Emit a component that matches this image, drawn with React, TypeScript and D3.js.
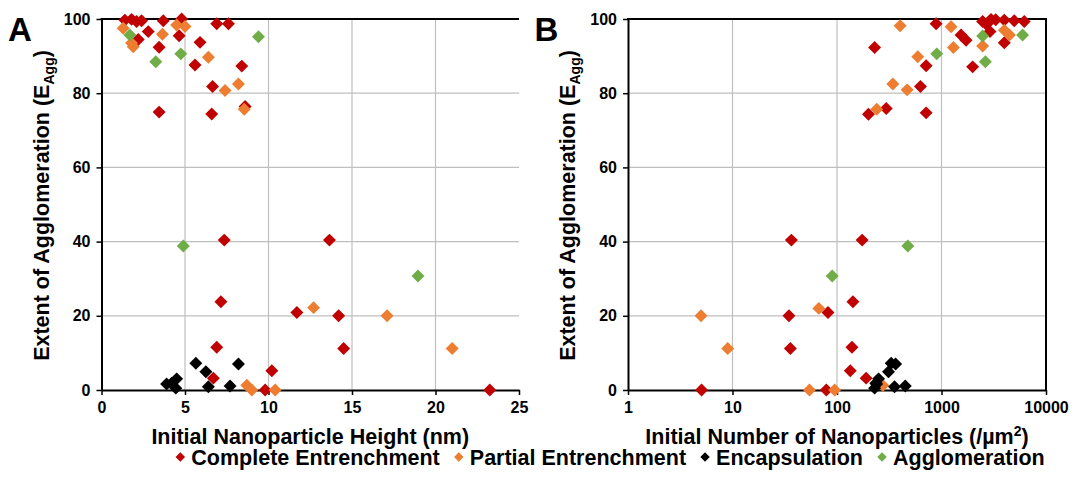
import React, { useRef, useEffect } from 'react';
import * as d3 from 'd3';

// series names, in draw order
const categories = ['Complete Entrenchment', 'Partial Entrenchment', 'Encapsulation', 'Agglomeration'];
const seriesColors = ['#C00000', '#ED7D31', '#000000', '#70AD47'];

// panel A: [initial height (nm), E_Agg]
const completeHeight = [
  [1.4, 99.7], [1.8, 99.9], [2.1, 99.3], [2.4, 99.5], [2.8, 96.6], [2.2, 94.5], [3.7, 99.5],
  [3.45, 92.4], [4.8, 100], [4.65, 95.5], [5.9, 93.7], [5.6, 87.6], [6.9, 98.7], [7.6, 98.7],
  [8.4, 87.3], [6.65, 81.8], [3.45, 74.9], [6.6, 74.4], [8.6, 76.4], [7.35, 40.4], [7.15, 23.8],
  [6.9, 11.5], [6.7, 3.2], [10.2, 5.2], [9.8, 0], [13.65, 40.4], [11.7, 20.9], [14.2, 20],
  [14.5, 11.2], [23.25, 0],
];
const partialHeight = [
  [1.3, 97.5], [1.8, 93.5], [1.9, 92.5], [3.65, 95.9], [4.5, 98.4], [5.0, 98], [6.4, 89.7],
  [7.4, 80.7], [8.2, 82.5], [8.55, 75.7], [8.7, 1.3], [9.0, 0], [10.4, 0], [12.7, 22.2],
  [17.1, 20], [21, 11.2],
];
const encapHeight = [
  [3.9, 1.6], [4.2, 1.8], [4.45, 0.5], [4.5, 3], [5.65, 7.2], [6.25, 4.9], [6.4, 0.9], [7.7, 1.1], [8.2, 7],
];
const agglomHeight = [[1.7, 95.7], [3.25, 88.5], [4.75, 90.6], [9.4, 95.2], [4.9, 38.8], [18.95, 30.7]];

// panel B: [initial number of nanoparticles (/um2), E_Agg]
const completeNumber = [
  [888, 98.7], [1538, 95.7], [1718, 94.3], [229, 92.3], [713, 87.4], [1986, 87.1], [629, 81.8],
  [296, 75.9], [200, 74.3], [713, 74.7], [2475, 99.3], [2977, 99.9], [2912, 96.6], [3990, 99.7],
  [4970, 99.5], [6190, 99.3], [3990, 93.6], [2700, 98.5], [3300, 99.8], [36.6, 40.4], [174, 40.4],
  [142, 23.8], [34.7, 20], [82, 20.9], [35.8, 11.2], [139, 11.5], [134, 5.2], [190, 3.2], [79, 0],
  [5.06, 0],
];
const partialNumber = [
  [402, 98.2], [1236, 97.9], [593, 89.8], [1300, 92.3], [342, 82.5], [469, 80.9], [240, 75.7],
  [2477, 92.7], [3990, 97], [4470, 95.7], [5, 20], [9, 11.2], [67, 22], [54.5, 0], [95, 0], [275, 1.2],
];
const encapNumber = [
  [229, 0.5], [235, 1.8], [250, 3.0], [240, 1.6], [330, 7.2], [311, 4.9], [355, 0.9], [450, 1.1], [364, 7],
];
const agglomNumber = [[901, 90.6], [2477, 95.4], [2630, 88.5], [5970, 95.7], [90, 30.7], [476, 38.8]];

const yTicks = [0, 20, 40, 60, 80, 100];
const heightTicks = [0, 5, 10, 15, 20, 25];
const numberTicks = [1, 10, 100, 1000, 10000];

const W = 1072,
  H = 496;
const FONT = "'Liberation Sans', Arial, sans-serif";
const TITLE_SIZE = '21.5px';

const Chart = () => {
  const svgRef = useRef<SVGSVGElement>(null);

  useEffect(() => {
    const svg = d3.select(svgRef.current);
    svg.selectAll('*').remove();

    const y = d3.scaleLinear().domain([0, 100]).range([390, 19]);

    const panels = [
      {
        letter: 'A',
        x: d3.scaleLinear().domain([0, 25]).range([101.5, 519]),
        ticks: heightTicks,
        series: [completeHeight, partialHeight, encapHeight, agglomHeight],
        rightBorder: false,
      },
      {
        letter: 'B',
        x: d3.scaleLog().domain([1, 10000]).range([628, 1046]),
        ticks: numberTicks,
        series: [completeNumber, partialNumber, encapNumber, agglomNumber],
        rightBorder: true,
      },
    ];

    const diamond = d3.symbol().type(d3.symbolSquare).size(84);

    panels.forEach((p, pi) => {
      const g = svg.append('g');
      const [x0, x1] = p.x.range();

      // GRID
      g.selectAll('.hgrid')
        .data(yTicks.filter((t) => t > 0 && t < 100))
        .enter()
        .append('line')
        .attr('x1', x0)
        .attr('x2', x1)
        .attr('y1', (d) => y(d))
        .attr('y2', (d) => y(d))
        .attr('stroke', '#BFBFBF')
        .attr('stroke-width', 1.2);
      g.selectAll('.vgrid')
        .data(p.ticks.slice(1, -1))
        .enter()
        .append('line')
        .attr('x1', (d) => p.x(d))
        .attr('x2', (d) => p.x(d))
        .attr('y1', y(100))
        .attr('y2', y(0))
        .attr('stroke', '#BFBFBF')
        .attr('stroke-width', 1.2);

      // BORDERS
      g.append('line')
        .attr('x1', x0 - 1)
        .attr('x2', x1 + (p.rightBorder ? 1 : 0))
        .attr('y1', y(100))
        .attr('y2', y(100))
        .attr('stroke', '#000')
        .attr('stroke-width', 2);
      if (p.rightBorder) {
        g.append('line')
          .attr('x1', x1)
          .attr('x2', x1)
          .attr('y1', y(100))
          .attr('y2', y(0))
          .attr('stroke', '#000')
          .attr('stroke-width', 2);
      }

      // AXES
      const xAxis = d3
        .axisBottom(p.x)
        .tickValues(p.ticks)
        .tickFormat(d3.format('d') as any)
        .tickSize(5)
        .tickSizeOuter(0)
        .tickPadding(7);
      const yAxis = d3.axisLeft(y).tickValues(yTicks).tickSize(5).tickSizeOuter(0).tickPadding(6);
      const xg = g.append('g').attr('transform', `translate(0,${y(0)})`).call(xAxis);
      const yg = g.append('g').attr('transform', `translate(${x0},0)`).call(yAxis);
      [xg, yg].forEach((a) => {
        a.select('.domain').attr('stroke', '#000').attr('stroke-width', 2);
        a.selectAll('.tick line').attr('stroke', '#000').attr('stroke-width', 1.5);
        a.selectAll('.tick text')
          .attr('fill', '#000')
          .style('font-family', FONT)
          .style('font-weight', 'bold')
          .style('font-size', '16px');
      });

      // POINTS
      p.series.forEach((data, si) => {
        g.selectAll(`.s${si}`)
          .data(data)
          .enter()
          .append('path')
          .attr('d', diamond as any)
          .attr('transform', (d) => `translate(${p.x(d[0])},${y(d[1])}) rotate(45)`)
          .attr('fill', seriesColors[si]);
      });

      // TITLES
      const cx = (x0 + x1) / 2;
      const xt = g
        .append('text')
        .attr('x', cx)
        .attr('y', 444)
        .attr('text-anchor', 'middle')
        .style('font-family', FONT)
        .style('font-weight', 'bold')
        .style('font-size', TITLE_SIZE);
      if (pi === 0) {
        xt.text('Initial Nanoparticle Height (nm)');
      } else {
        xt.append('tspan').text('Initial Number of Nanoparticles (/µm');
        xt.append('tspan').attr('dy', -8).style('font-size', '14px').text('2');
        xt.append('tspan').attr('dy', 8).text(')');
      }

      const yt = g
        .append('text')
        .attr('transform', `translate(${x0 - 53},${(y(0) + y(100)) / 2 + 1}) rotate(-90)`)
        .attr('text-anchor', 'middle')
        .style('font-family', FONT)
        .style('font-weight', 'bold')
        .style('font-size', TITLE_SIZE);
      yt.append('tspan').text('Extent of Agglomeration (E');
      yt.append('tspan').attr('dy', 5).style('font-size', '14px').text('Agg');
      yt.append('tspan').attr('dy', -5).text(')');

      g.append('text')
        .attr('x', x0 - 93.5)
        .attr('y', 41)
        .style('font-family', FONT)
        .style('font-weight', 'bold')
        .style('font-size', '33px')
        .text(p.letter);
    });

    // LEGEND
    const lg = svg.append('g');
    const items = lg.selectAll('.item').data(categories).enter().append('g');
    items
      .append('path')
      .attr('d', d3.symbol().type(d3.symbolSquare).size(45) as any)
      .attr('fill', (d, i) => seriesColors[i])
      .attr('transform', 'rotate(45)');
    items
      .append('text')
      .attr('x', 11)
      .attr('y', 7.5)
      .style('font-family', FONT)
      .style('font-weight', 'bold')
      .style('font-size', TITLE_SIZE)
      .text((d) => d);
    let cursor = 0;
    const offsets: number[] = [];
    items.each(function () {
      offsets.push(cursor);
      const len = (d3.select(this).select('text').node() as SVGTextElement).getComputedTextLength();
      cursor += 11 + len + 19;
    });
    const total = cursor - 19 + 5;
    const start = 608 - total / 2 + 7;
    items.attr('transform', (d, i) => `translate(${start + offsets[i]},457)`);
  }, []);

  return (
    <svg ref={svgRef} width={W} height={H} style={{ position: 'absolute', left: 0, top: 0, background: '#fff' }} />
  );
};

export default function App() {
  return <Chart />;
}
